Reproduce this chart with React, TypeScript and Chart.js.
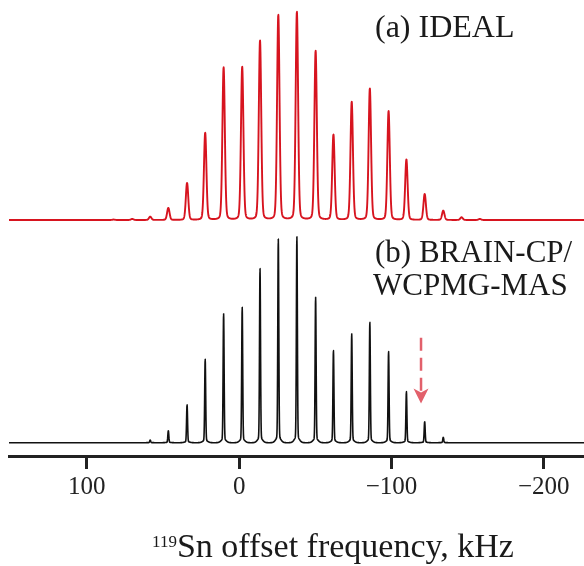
import React, { useEffect, useRef } from 'react';
import { Chart, registerables } from 'chart.js';

Chart.register(...registerables);

// Spinning-sideband positions (kHz)
const sidebandKHz = [82.4, 70.2, 58.4, 46.5, 34.2, 22.3, 10.2, -2.0, -13.7, -25.7, -37.9, -50.2, -61.9, -73.9, -85.8, -98.1, -109.8, -121.8, -134.0, -146.0, -158.0];
// (a) IDEAL relative peak heights
const idealHeights = [0.002, 0.005, 0.016, 0.058, 0.178, 0.419, 0.733, 0.736, 0.862, 0.986, 1.0, 0.813, 0.411, 0.568, 0.632, 0.523, 0.291, 0.125, 0.045, 0.013, 0.005];
// (b) BRAIN-CP/WCPMG-MAS relative peak heights
const measuredHeights = [0, 0, 0.013, 0.058, 0.184, 0.405, 0.626, 0.657, 0.845, 0.989, 1.0, 0.706, 0.447, 0.528, 0.584, 0.442, 0.248, 0.102, 0.026, 0, 0];

const tickValues = [100, 0, -100, -200];
const xMinKHz = -226.4;
const xMaxKHz = 151.1;
const arrowKHz = -119.4;
const arrowFrom = 0.51;
const arrowTo = 0.19;

const labelA = '(a) IDEAL';
const labelB1 = '(b) BRAIN-CP/';
const labelB2 = 'WCPMG-MAS';
const axisIsotope = '119';
const axisTitle = 'Sn offset frequency, kHz';

function buildSpectrum(heights: number[], sigma: number, lorFrac: number, lorHalf: number, broadFrac: number, broadSigma: number) {
  const pts: { x: number; y: number }[] = [];
  const n = Math.round((xMaxKHz - xMinKHz) / 0.1);
  for (let k = 0; k <= n; k++) {
    const x = xMaxKHz - (k * (xMaxKHz - xMinKHz)) / n;
    let y = 0;
    for (let i = 0; i < sidebandKHz.length; i++) {
      const h = heights[i];
      if (!h) continue;
      const d = x - sidebandKHz[i];
      if (Math.abs(d) > 10) continue;
      const g = Math.exp(-(d * d) / (2 * sigma * sigma));
      const l = (lorHalf * lorHalf) / (d * d + lorHalf * lorHalf);
      const b = Math.exp(-(d * d) / (2 * broadSigma * broadSigma));
      y += h * ((1 - lorFrac - broadFrac) * g + lorFrac * l + broadFrac * b);
    }
    pts.push({ x, y });
  }
  return pts;
}

const annotPlugin = {
  id: 'annot',
  afterDraw(chart: any) {
    const ctx = chart.ctx as CanvasRenderingContext2D;
    const xs = chart.scales.x;
    const yb = chart.scales.yb;
    ctx.save();
    ctx.fillStyle = '#1a1a1a';
    ctx.textAlign = 'left';
    ctx.textBaseline = 'alphabetic';
    ctx.font = '32px "Liberation Serif"';
    ctx.fillText(labelA, 375, 37);
    ctx.font = '31px "Liberation Serif"';
    ctx.fillText(labelB1, 375, 262);
    ctx.fillText(labelB2, 373, 295);

    // dashed arrow
    const ax = xs.getPixelForValue(arrowKHz);
    const y0 = yb.getPixelForValue(arrowFrom);
    const y1 = yb.getPixelForValue(arrowTo);
    ctx.strokeStyle = '#e2606b';
    ctx.lineWidth = 2.5;
    ctx.setLineDash([13, 7]);
    ctx.beginPath();
    ctx.moveTo(ax, y0);
    ctx.lineTo(ax, y1 - 11);
    ctx.stroke();
    ctx.setLineDash([]);
    ctx.fillStyle = '#e2606b';
    ctx.beginPath();
    ctx.moveTo(ax - 7.5, y1 - 15);
    ctx.lineTo(ax, y1 - 11);
    ctx.lineTo(ax + 7.5, y1 - 15);
    ctx.lineTo(ax, y1);
    ctx.closePath();
    ctx.fill();

    // axis title with superscript
    ctx.fillStyle = '#1a1a1a';
    ctx.font = '17px "Liberation Serif"';
    const w1 = ctx.measureText(axisIsotope).width;
    ctx.font = '34px "Liberation Serif"';
    const w2 = ctx.measureText(axisTitle).width;
    const start = 333 - (w1 + w2) / 2;
    ctx.font = '17px "Liberation Serif"';
    ctx.fillText(axisIsotope, start, 547);
    ctx.font = '34px "Liberation Serif"';
    ctx.fillText(axisTitle, start + w1, 557);
    ctx.restore();
  },
};

export default function App() {
  const ref = useRef<HTMLCanvasElement>(null);
  useEffect(() => {
    document.body.style.margin = '0';
    const ideal = buildSpectrum(idealHeights, 0.8, 0.15, 1.0, 0, 1);
    const measured = buildSpectrum(measuredHeights, 0.32, 0.0, 1.0, 0.03, 1.5);
    const chart = new Chart(ref.current as HTMLCanvasElement, {
      type: 'line',
      data: {
        datasets: [
          {
            label: 'IDEAL',
            data: ideal,
            yAxisID: 'ya',
            borderColor: '#d7141f',
            borderWidth: 1.9,
            borderJoinStyle: 'round',
            borderCapStyle: 'round',
            pointRadius: 0,
            tension: 0.001,
          },
          {
            label: 'BRAIN-CP/WCPMG-MAS',
            data: measured,
            yAxisID: 'yb',
            borderColor: '#111111',
            borderWidth: 1.6,
            borderJoinStyle: 'round',
            borderCapStyle: 'round',
            pointRadius: 0,
            tension: 0.001,
          },
        ],
      },
      options: {
        responsive: false,
        animation: false,
        parsing: false,
        normalized: true,
        layout: { padding: { left: 9, right: 0, top: 0, bottom: 0 } },
        plugins: { legend: { display: false }, tooltip: { enabled: false } },
        scales: {
          x: {
            type: 'linear',
            reverse: true,
            min: xMinKHz,
            max: xMaxKHz,
            afterBuildTicks: (s: any) => {
              s.ticks = tickValues.map((v) => ({ value: v }));
            },
            afterFit: (s: any) => {
              s.height = 110;
            },
            grid: {
              drawOnChartArea: false,
              drawTicks: true,
              tickLength: 13,
              tickWidth: 3,
              tickColor: '#222',
            },
            border: { display: true, width: 3, color: '#222' },
            ticks: {
              padding: 3,
              color: '#222',
              font: { family: '"Liberation Serif"', size: 25 },
              callback: (v: any) => (v < 0 ? '\u2212' + Math.abs(v) : String(v)),
            },
          },
          ya: { display: false, min: -1.133, max: 1.056 },
          yb: { display: false, min: -0.0646, max: 2.149 },
        },
      },
      plugins: [annotPlugin],
    } as any);
    return () => chart.destroy();
  }, []);
  return <canvas ref={ref} width={584} height={566} style={{ display: 'block' }} />;
}
